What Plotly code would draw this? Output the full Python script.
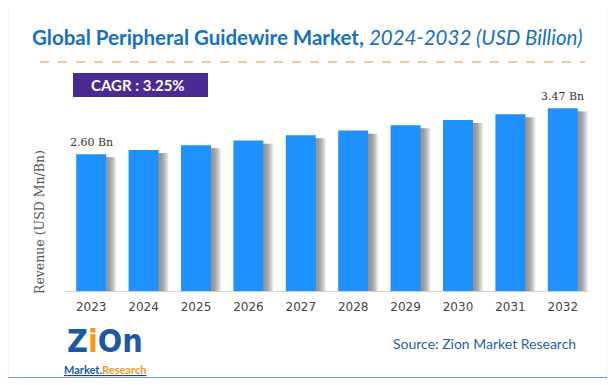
import plotly.graph_objects as go

years = ["2023", "2024", "2025", "2026", "2027", "2028", "2029", "2030", "2031", "2032"]
revenue = [2.60, 2.68, 2.77, 2.86, 2.96, 3.05, 3.15, 3.25, 3.36, 3.47]
first_label = "2.60 Bn"
last_label = "3.47 Bn"
cagr_text = "CAGR : 3.25%"
title_main = "Global Peripheral Guidewire Market,"
title_sub = "2024-2032 (USD Billion)"
source_text = "Source: Zion Market Research"
y_title = "Revenue (USD Mn/Bn)"

OFF = 8  # page body margin
W, H = 615 - OFF, 385 - OFF
L, R, T, B = 57, 26, 83, 94
PW, PH = W - L - R, H - T - B

def px(x):
    return (x - OFF - L) / PW

def py(y):
    return (H - B - (y - OFF)) / PH

fig = go.Figure()

step = len(years) / PW  # category units per pixel
bar_w = 30 * step
for k in range(8):
    fig.add_trace(go.Bar(
        x=years, y=[v - 0.06 for v in revenue],
        width=bar_w + (k + 1) * step,
        offset=-bar_w / 2 + 2 * step,
        marker=dict(color="rgba(100,100,100,0.12)", line=dict(width=0)),
        hoverinfo="skip", showlegend=False))

fig.add_trace(go.Bar(
    x=years, y=revenue, width=bar_w, offset=-bar_w / 2,
    marker=dict(color="#1e90ff", line=dict(width=0)),
    showlegend=False))

fig.update_layout(
    width=W, height=H, barmode="overlay",
    margin=dict(l=L, r=R, t=T, b=B, autoexpand=False),
    paper_bgcolor="white", plot_bgcolor="white",
    xaxis=dict(type="category", range=[-0.5, len(years) - 0.5], showgrid=False, showline=True,
               linecolor="#d0d0d0", linewidth=1, ticks="",
               tickfont=dict(family="DejaVu Sans", size=12, color="#444"),
               ticklabelstandoff=5),
    yaxis=dict(range=[0, 3.8], visible=False),
)

ann = []
ann.append(dict(x=0, y=revenue[0], xref="x", yref="y", text=first_label, showarrow=False,
                yanchor="bottom", yshift=3, font=dict(family="DejaVu Serif", size=11, color="#333")))
ann.append(dict(x=len(years) - 1, y=revenue[-1], xref="x", yref="y", text=last_label, showarrow=False,
                yanchor="bottom", yshift=3, font=dict(family="DejaVu Serif", size=11, color="#333")))
ann.append(dict(x=px(307), y=py(37), xref="paper", yref="paper",
                text="<b>" + title_main + "</b> <i>" + title_sub + "</i>",
                showarrow=False, xanchor="center", yanchor="middle",
                font=dict(family="Lato", size=20.5, color="#1470c4")))
ann.append(dict(x=px(138), y=py(85), xref="paper", yref="paper", text="<b>" + cagr_text + "</b>",
                showarrow=False, xanchor="center", yanchor="middle",
                font=dict(family="Lato", size=15, color="white")))
ann.append(dict(x=px(39), y=py(222), xref="paper", yref="paper", text=y_title, textangle=-90,
                showarrow=False, xanchor="center", yanchor="middle",
                font=dict(family="DejaVu Serif", size=12.5, color="#555")))
ann.append(dict(x=px(578), y=py(343), xref="paper", yref="paper", text=source_text,
                showarrow=False, xanchor="right", yanchor="middle",
                font=dict(family="Lato", size=14, color="#1f5fa8")))
ann.append(dict(x=px(105), y=py(341), xref="paper", yref="paper",
                text="<b><span style='color:#1c58a8'>Z</span><span style='color:#f39a1e'>i</span>"
                     "<span style='color:#1c58a8'>On</span></b>",
                showarrow=False, xanchor="center", yanchor="middle",
                font=dict(family="DejaVu Sans Condensed", size=32, color="#1c58a8")))
ann.append(dict(x=px(105), y=py(369), xref="paper", yref="paper",
                text="<b><u><span style='color:#1c58a8'>Market.</span><span style='color:#f39a1e'>Research</span></u></b>",
                showarrow=False, xanchor="center", yanchor="middle",
                font=dict(family="Lato", size=11)))
fig.update_layout(annotations=ann)

shapes = []
shapes.append(dict(type="rect", xref="paper", yref="paper", x0=px(7.5), x1=px(607.5), y0=py(377.5), y1=py(7.5),
                   line=dict(color="#6a9fd4", width=1.2), fillcolor="rgba(0,0,0,0)", layer="below"))
shapes.append(dict(type="line", xref="paper", yref="paper", x0=px(40), x1=px(585), y0=py(62), y1=py(62),
                   line=dict(color="#f08a3c", width=1, dash="dash")))
shapes.append(dict(type="rect", xref="paper", yref="paper", x0=px(73), x1=px(208), y0=py(97), y1=py(73),
                   line=dict(width=0), fillcolor="#4b2a96", layer="below"))
fig.update_layout(shapes=shapes)

fig.write_html("out.html")
